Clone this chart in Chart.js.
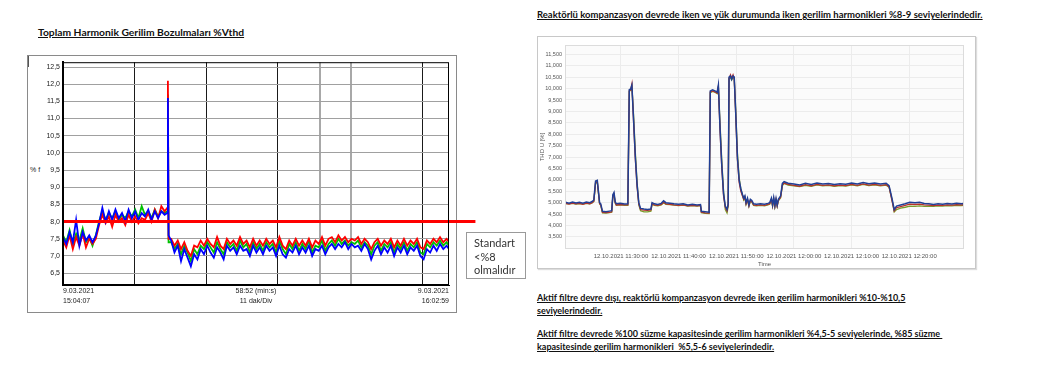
<!DOCTYPE html>
<html>
<head>
<meta charset="utf-8">
<script src="https://cdn.jsdelivr.net/npm/chart.js@4.4.0/dist/chart.umd.min.js"></script>
<style>
  body { margin: 0; background: #fff; width: 1041px; height: 387px; position: relative; overflow: hidden; font-family: Lato, "Liberation Sans", sans-serif; }
  .txt { position: absolute; white-space: nowrap; color: #111; font-weight: bold; text-decoration: underline; }
  #leftBox { position: absolute; left: 27px; top: 55px; width: 428px; height: 256px; border: 1px solid #8a8a8a; }
  #leftMark { position: absolute; left: 28px; top: 56px; width: 1px; height: 11px; background: #555; }
  #rightBox { position: absolute; left: 537px; top: 36px; width: 437px; height: 231px; border: 1px solid #c8c8c8; box-shadow: 1px 1px 1px #ddd; }
  canvas { position: absolute; }
  #note { position: absolute; left: 466px; top: 232px; width: 60px; height: 47px; border: 1px solid #9a9a9a; font-size: 11px; line-height: 13.5px; color: #333; padding: 3px 0 0 7px; box-sizing: border-box; }
  #pf { position: absolute; left: 30px; top: 166px; font: 7px "Liberation Sans", sans-serif; color: #222; }
</style>
</head>
<body>
<div class="txt" style="left:38px; top:26px; font-size:10.3px;">Toplam Harmonik Gerilim Bozulmaları %Vthd</div>
<div class="txt" style="left:537px; top:9px; font-size:9.5px;">Reaktörlü kompanzasyon devrede iken ve yük durumunda iken gerilim harmonikleri %8-9 seviyelerindedir.</div>
<div class="txt" style="left:537px; top:292px; font-size:9px;">Aktif filtre devre dışı, reaktörlü kompanzasyon devrede iken gerilim harmonikleri %10-%10,5</div>
<div class="txt" style="left:537px; top:305px; font-size:9px;">seviyelerindedir.</div>
<div class="txt" style="left:537px; top:328px; font-size:9px;">Aktif filtre devrede %100 süzme kapasitesinde gerilim harmonikleri %4,5-5 seviyelerinde, %85 süzme&nbsp;</div>
<div class="txt" style="left:537px; top:341px; font-size:9px;">kapasitesinde gerilim harmonikleri&nbsp; %5,5-6 seviyelerindedir.</div>

<div id="leftBox"></div>
<div id="leftMark"></div>
<div id="pf">% f</div>
<canvas id="leftChart" width="455" height="258" style="left:27px; top:55px;"></canvas>
<div id="note">Standart<br>&lt;%8<br>olmalıdır</div>

<div id="rightBox"></div>
<canvas id="rightChart" width="438" height="232" style="left:537px; top:36px;"></canvas>

<script>
// ---- left chart: 9.03.2021 15:04:07 - 16:02:59, minutes from start
const leftTime = [0,0.5,1,1.5,2,2.5,3,3.5,4,4.5,5,
  5.5,6,6.5,7,7.5,8,8.5,9,9.5,10,10.5,11,11.5,12,12.5,13,13.5,14,14.5,15,15.5,
  15.9,16,16.1,
  16.5,17,17.5,18,18.5,19,19.5,20,20.5,21,
  21.5,22,22.5,23,23.5,24,24.5,25,25.5,26,
  26.5,27,27.5,28,28.5,29,29.5,30,30.5,31,
  31.5,32,32.5,33,33.5,34,34.5,35,35.5,36,
  36.5,37,37.5,38,38.5,39,39.5,40,40.5,41,
  41.5,42,42.5,43,43.5,44,44.5,45,45.5,46,
  46.5,47,47.5,48,48.5,49,49.5,50,50.5,51,
  51.5,52,52.5,53,53.5,54,54.5,55,55.5,56,
  56.5,57,57.5,58,58.5,58.87];
const leftBlue = [7.55,7.35,7.7,7.4,8.05,7.3,7.7,7.45,7.6,7.4,7.58,
  7.95,8.4,8.0,8.3,8.05,8.35,8.1,8.25,8.0,8.35,8.1,8.3,8.05,8.25,8.15,8.35,8.05,8.3,8.1,8.3,8.2,
  8.25,11.6,7.6,
  7.45,7.1,7.3,6.85,7.2,6.95,6.7,7.05,6.9,7.2,
  7.05,7.3,7.1,6.95,7.25,7.1,6.9,7.3,7.15,7.25,
  7.05,7.3,7.15,7.2,7.0,7.3,7.1,7.25,7.05,7.3,
  7.15,7.25,7.0,7.3,7.05,6.95,7.2,7.1,7.3,7.05,
  7.25,7.1,7.3,7.0,7.2,7.15,7.3,7.05,7.25,7.35,
  7.2,7.35,7.25,7.4,7.2,7.35,7.25,7.3,7.15,7.35,
  7.2,6.9,7.15,7.3,7.05,7.25,7.1,7.3,7.0,7.25,
  7.1,7.3,7.05,7.25,7.15,7.3,7.0,6.9,7.2,7.1,
  7.3,7.15,7.35,7.2,7.3,7.2];
const leftRed = [7.45,7.25,7.6,7.2,7.55,7.3,7.65,7.25,7.5,7.35,7.5,
  7.9,8.2,7.95,8.15,7.85,8.2,8.0,8.1,7.9,8.2,8.0,8.15,7.95,8.1,8.05,8.25,8.0,8.35,8.1,8.45,8.3,
  8.4,12.1,7.5,
  7.5,7.3,7.45,7.2,7.4,7.15,7.0,7.3,7.25,7.45,
  7.3,7.5,7.35,7.25,7.55,7.3,7.2,7.5,7.35,7.45,
  7.3,7.55,7.35,7.45,7.25,7.5,7.3,7.45,7.3,7.5,
  7.35,7.45,7.25,7.55,7.3,7.2,7.45,7.3,7.5,7.3,
  7.45,7.3,7.5,7.25,7.45,7.35,7.55,7.3,7.5,7.55,
  7.4,7.6,7.45,7.55,7.4,7.5,7.45,7.55,7.35,7.5,
  7.4,7.2,7.4,7.5,7.3,7.45,7.35,7.5,7.25,7.45,
  7.3,7.5,7.3,7.45,7.35,7.5,7.25,7.2,7.45,7.35,
  7.5,7.4,7.55,7.4,7.5,7.4];
const leftGreen = [7.6,7.4,7.75,7.35,7.65,7.45,7.8,7.4,7.55,7.3,7.6,
  8.0,8.3,8.05,8.25,8.1,8.3,8.05,8.2,8.1,8.3,8.15,8.35,8.1,8.45,8.2,8.3,8.1,8.35,8.15,8.3,8.25,
  8.3,11.7,7.4,
  7.4,7.2,7.35,7.05,7.3,7.1,6.85,7.2,7.05,7.3,
  7.2,7.4,7.25,7.1,7.4,7.2,7.05,7.4,7.25,7.35,
  7.15,7.45,7.25,7.35,7.1,7.4,7.2,7.35,7.15,7.4,
  7.25,7.35,7.1,7.45,7.2,7.05,7.35,7.2,7.4,7.15,
  7.35,7.2,7.45,7.1,7.3,7.25,7.45,7.15,7.35,7.45,
  7.3,7.5,7.35,7.45,7.3,7.4,7.35,7.45,7.25,7.4,
  7.3,7.05,7.3,7.4,7.15,7.35,7.25,7.4,7.1,7.35,
  7.2,7.4,7.15,7.35,7.25,7.4,7.1,7.05,7.35,7.25,
  7.4,7.3,7.45,7.3,7.4,7.3];
const leftLimit = 8.0;
const leftYTicks = [6.5,7.0,7.5,8.0,8.5,9.0,9.5,10.0,10.5,11.0,11.5,12.0,12.5];
const leftDivLines = [10.83,21.81,32.79,54.9];     // dark division lines
const leftGreyLines = [39.2,43.92];                 // lighter lines
const leftXLabels = {
  0: ['9.03.2021','15:04:07'],
  29.43: ['58:52 (min:s)','11 dak/Div'],
  58.87: ['9.03.2021','16:02:59']
};

// ---- right chart: 12.10.2021, minutes after 11:00
const rightTime = [20.4,21.0,21.6,22.2,22.8,23.4,24.0,24.6,25.0,25.3,
  25.6,25.9,26.1,26.3,26.5,26.8,27.4,28.0,28.4,28.6,
  28.8,29.0,29.2,29.9,30.6,31.2,31.45,31.7,31.9,32.2,
  32.5,32.8,33.1,33.4,34.0,34.6,35.2,35.4,35.8,36.4,
  37.0,37.4,37.8,38.5,39.2,40.0,40.8,41.6,42.4,43.2,
  43.8,43.95,44.6,45.3,45.5,45.9,46.3,46.7,46.9,47.2,
  47.5,47.8,48.1,48.4,48.6,48.75,49.0,49.2,49.45,49.65,
  49.9,50.2,50.5,50.8,51.1,51.3,51.5,51.7,51.95,52.2,
  52.45,52.7,53.0,53.5,54.2,54.9,55.5,55.8,56.1,56.3,
  56.5,56.7,56.9,57.1,57.3,57.7,58.0,58.3,59.0,60.0,
  61.0,62.0,63.0,64.0,65.0,66.0,67.0,68.0,69.0,70.0,
  71.0,72.0,73.0,74.0,75.0,76.0,76.5,77.0,77.4,77.8,
  78.5,79.3,80.1,81.0,81.8,82.6,83.4,84.2,85.0,85.8,
  86.6,87.4,88.2,89.0,89.5];
const rightBlue = [5.02,4.98,5.03,4.99,5.02,4.98,5.03,5.0,5.05,5.12,
  5.95,5.98,5.5,5.0,4.95,4.62,4.6,4.63,4.65,5.35,
  5.45,5.05,4.95,4.97,4.94,4.95,9.95,9.98,10.15,8.6,
  7.0,5.8,5.0,4.75,4.72,4.7,4.72,5.0,4.95,4.92,
  4.97,5.08,5.0,4.98,4.95,4.93,4.95,4.9,4.93,4.9,
  4.92,4.62,4.6,4.58,9.9,9.95,9.9,9.85,10.15,8.2,
  6.6,5.4,4.85,4.7,4.95,10.5,10.55,10.4,10.55,10.5,
  9.0,7.0,6.0,5.6,5.35,5.2,5.3,5.0,5.2,4.9,
  5.15,5.1,4.95,4.93,4.95,4.93,4.97,5.0,5.2,4.9,
  5.22,4.88,5.18,4.9,5.15,5.3,5.85,5.92,5.85,5.82,
  5.78,5.85,5.8,5.86,5.82,5.84,5.8,5.83,5.81,5.86,
  5.82,5.88,5.83,5.86,5.82,5.85,5.75,5.2,4.7,4.85,
  4.9,4.95,5.02,5.0,5.02,4.96,4.95,4.92,4.95,4.93,
  4.96,4.94,4.97,4.95,4.96];
const rightRed = [4.97,4.94,4.98,4.95,4.97,4.93,4.98,4.95,5.0,5.07,
  5.88,5.92,5.45,4.96,4.9,4.57,4.56,4.58,4.6,5.3,
  5.38,5.0,4.9,4.92,4.9,4.9,9.9,9.95,10.2,8.5,
  6.9,5.7,4.95,4.7,4.67,4.66,4.68,4.95,4.9,4.88,
  4.92,5.02,4.95,4.93,4.9,4.88,4.9,4.86,4.88,4.86,
  4.88,4.58,4.55,4.54,9.85,9.9,9.85,9.8,10.1,8.1,
  6.5,5.3,4.8,4.65,4.9,10.45,10.6,10.45,10.6,10.45,
  8.9,6.9,5.9,5.5,5.28,5.15,5.25,4.95,5.15,4.86,
  5.1,5.05,4.9,4.88,4.9,4.88,4.92,4.95,5.15,4.86,
  5.17,4.84,5.13,4.86,5.1,5.25,5.78,5.86,5.8,5.76,
  5.72,5.79,5.74,5.8,5.76,5.78,5.74,5.77,5.75,5.8,
  5.76,5.82,5.77,5.8,5.76,5.79,5.7,5.1,4.64,4.78,
  4.83,4.88,4.94,4.92,4.94,4.9,4.89,4.87,4.89,4.88,
  4.9,4.89,4.91,4.9,4.91];
const rightGreen = [4.96,4.95,4.97,4.94,4.96,4.94,4.97,4.95,4.99,5.05,
  5.85,5.9,5.4,4.95,4.88,4.55,4.54,4.56,4.58,5.28,
  5.35,4.98,4.88,4.9,4.88,4.88,9.88,9.92,10.1,8.8,
  7.2,5.9,4.9,4.65,4.6,4.6,4.63,4.93,4.88,4.86,
  4.9,5.0,4.93,4.92,4.89,4.87,4.89,4.85,4.87,4.85,
  4.87,4.56,4.53,4.52,9.82,9.88,9.84,9.78,10.05,8.4,
  6.8,5.5,4.7,4.55,4.85,10.42,10.5,10.38,10.5,10.42,
  9.1,7.2,6.1,5.6,5.3,5.12,5.22,4.93,5.12,4.84,
  5.08,5.02,4.88,4.86,4.88,4.86,4.9,4.93,5.12,4.84,
  5.14,4.82,5.1,4.84,5.08,5.22,5.75,5.84,5.77,5.74,
  5.7,5.76,5.72,5.78,5.74,5.76,5.72,5.75,5.73,5.78,
  5.74,5.8,5.75,5.78,5.74,5.77,5.68,5.15,4.6,4.7,
  4.76,4.8,4.85,4.84,4.86,4.84,4.85,4.84,4.86,4.85,
  4.87,4.86,4.88,4.87,4.88];
const rightYTicks = [3.5,4.0,4.5,5.0,5.5,6.0,6.5,7.0,7.5,8.0,8.5,9.0,9.5,10.0,10.5,11.0,11.5];
const rightXTicks = [30,40,50,60,70,80];
const rightXLabels = ['12.10.2021 11:30:00','12.10.2021 11:40:00','12.10.2021 11:50:00',
  '12.10.2021 12:00:00','12.10.2021 12:10:00','12.10.2021 12:20:00'];

function pts(xs, ys){ return xs.map((x, i) => ({x: x, y: ys[i]})); }

const plotFrame = {
  id: 'plotFrame',
  beforeDraw(chart, args, opts){
    if (!opts.fill) return;
    const a = chart.chartArea, c = chart.ctx;
    c.save(); c.fillStyle = opts.fill; c.fillRect(a.left, a.top, a.right - a.left, a.bottom - a.top); c.restore();
  },
  afterDatasetsDraw(chart, args, opts){
    const a = chart.chartArea, c = chart.ctx;
    c.save(); c.strokeStyle = opts.color; c.lineWidth = 1;
    c.strokeRect(a.left + 0.5, a.top + 0.5, a.right - a.left - 1, a.bottom - a.top - 1); c.restore();
  }
};

const leftXAll = [0].concat(leftDivLines.slice(0,3), [29.43], leftGreyLines, leftDivLines.slice(3), [58.87]).sort((a,b) => a-b);

// first dataset is painted last (on top)
new Chart(document.getElementById('leftChart'), {
  type: 'line',
  data: {
    datasets: [
      {data: [{x: 0, y: leftLimit}, {x: 62.9, y: leftLimit}], borderColor: '#ff0000', borderWidth: 3, clip: false},
      {data: pts(leftTime, leftBlue), borderColor: '#0000ff', borderWidth: 1.8},
      {data: pts(leftTime, leftRed), borderColor: '#ff0000', borderWidth: 1.8},
      {data: pts(leftTime, leftGreen), borderColor: '#00c000', borderWidth: 1.8}
    ]
  },
  options: {
    responsive: false, animation: false,
    elements: {point: {radius: 0}, line: {tension: 0}},
    layout: {padding: {left: 0, right: 33, top: 4, bottom: 0}},
    plugins: {legend: {display: false}, tooltip: {enabled: false}, plotFrame: {color: '#000'}},
    scales: {
      x: {
        type: 'linear', min: 0, max: 58.87,
        afterBuildTicks: ax => { ax.ticks = leftXAll.map(v => ({value: v})); },
        afterFit: ax => { ax.height = 28; },
        grid: {
          drawTicks: false,
          color: ctx => leftDivLines.includes(ctx.tick.value) ? '#1a1a1a' : (leftGreyLines.includes(ctx.tick.value) ? '#a8a8a8' : 'rgba(0,0,0,0)'),
          lineWidth: ctx => leftGreyLines.includes(ctx.tick.value) ? 2 : 1
        },
        border: {color: '#000', width: 1},
        ticks: {
          autoSkip: false, maxRotation: 0, align: 'inner', padding: 1,
          color: '#222', font: {family: 'Liberation Sans', size: 7, lineHeight: 1.45},
          callback: v => leftXLabels[v] || ''
        }
      },
      y: {
        min: 6.155, max: 12.64,
        afterBuildTicks: ax => { ax.ticks = leftYTicks.map(v => ({value: v})); },
        afterFit: ax => { ax.width = 36; },
        grid: {drawTicks: false, color: '#a0a0a0', lineWidth: 1},
        border: {color: '#000', width: 2},
        ticks: {
          padding: 3, color: '#222', font: {family: 'Liberation Sans', size: 7},
          callback: v => v.toFixed(1).replace('.', ',')
        }
      }
    }
  },
  plugins: [plotFrame]
});

new Chart(document.getElementById('rightChart'), {
  type: 'line',
  data: {
    datasets: [
      {data: pts(rightTime, rightBlue), borderColor: '#213f95', borderWidth: 1.5},
      {data: pts(rightTime, rightRed), borderColor: '#b8322a', borderWidth: 1.3},
      {data: pts(rightTime, rightGreen), borderColor: '#7a9d2c', borderWidth: 1.3}
    ]
  },
  options: {
    responsive: false, animation: false,
    elements: {point: {radius: 0}, line: {tension: 0}},
    layout: {padding: {left: 0, right: 11, top: 9, bottom: 0}},
    plugins: {legend: {display: false}, tooltip: {enabled: false}, plotFrame: {color: '#dcdcdc', fill: '#fbfbfb'}},
    scales: {
      x: {
        type: 'linear', min: 20.3, max: 89.5,
        afterBuildTicks: ax => { ax.ticks = rightXTicks.map(v => ({value: v})); },
        afterFit: ax => { ax.height = 19; },
        grid: {drawTicks: false, color: '#ececec'},
        border: {display: false},
        ticks: {
          autoSkip: false, maxRotation: 0, padding: 4, color: '#555',
          font: {family: 'Liberation Sans', size: 6},
          callback: (v, i) => rightXLabels[rightXTicks.indexOf(v)]
        },
        title: {display: true, text: 'Time', color: '#555', font: {family: 'Liberation Sans', size: 6}, padding: 0}
      },
      y: {
        min: 2.97, max: 11.91,
        afterBuildTicks: ax => { ax.ticks = rightYTicks.map(v => ({value: v})); },
        afterFit: ax => { ax.width = 28; },
        grid: {drawTicks: false, color: '#ececec'},
        border: {display: false},
        ticks: {
          padding: 3, color: '#555', font: {family: 'Liberation Sans', size: 5.5},
          callback: v => v.toFixed(3).replace('.', ',')
        },
        title: {display: true, text: 'THD U [%]', color: '#555', font: {family: 'Liberation Sans', size: 6}, padding: {top: 2, bottom: 0}}
      }
    }
  },
  plugins: [plotFrame]
});
</script>
</body>
</html>
